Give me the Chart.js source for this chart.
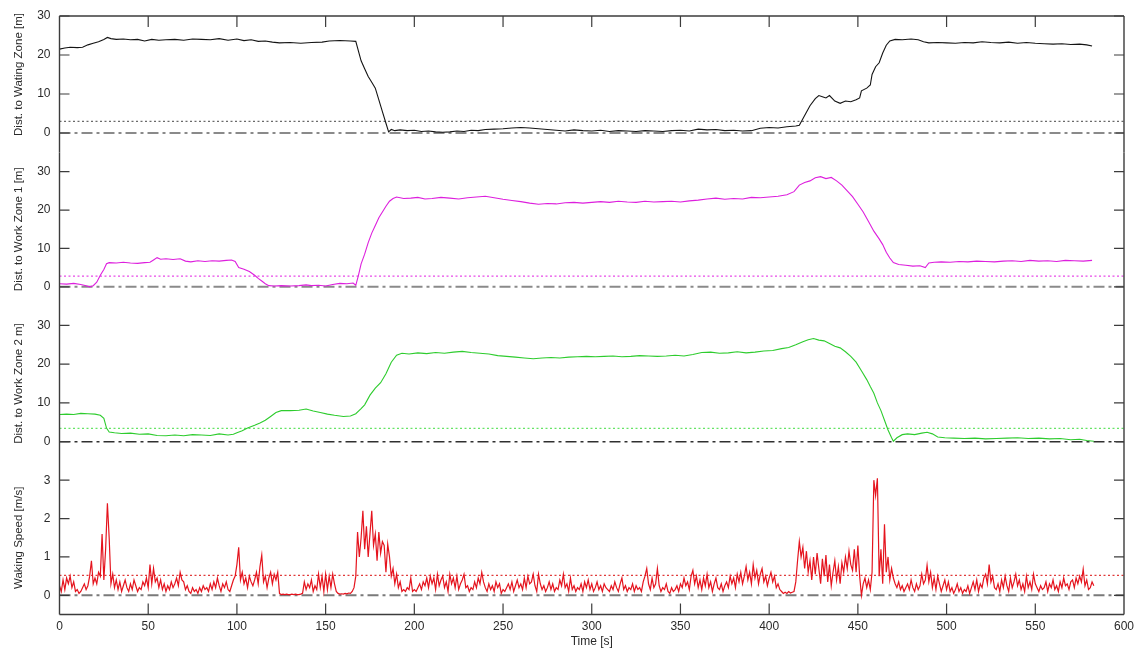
<!DOCTYPE html>
<html>
<head>
<meta charset="utf-8">
<title>Distances and walking speed over time</title>
<script src="https://cdn.jsdelivr.net/npm/chart.js@4.4.1/dist/chart.umd.min.js"></script>
<style>
  html, body { margin: 0; padding: 0; background: #fff; }
  #wrap { position: relative; width: 1136px; height: 650px; overflow: hidden; background: #fff; }
  #wrap canvas { position: absolute; left: 0; }
</style>
</head>
<body>
<div id="wrap">
  <canvas id="pWait" width="1136" height="670" style="top:-20px"></canvas>
  <canvas id="pZone1" width="1136" height="650" style="top:0"></canvas>
  <canvas id="pZone2" width="1136" height="650" style="top:0"></canvas>
  <canvas id="pSpeed" width="1136" height="650" style="top:0"></canvas>
</div>
<script>
// ---- axis ticks ----
const timeTicks = [0, 50, 100, 150, 200, 250, 300, 350, 400, 450, 500, 550, 600];
const distTicks = [0, 10, 20, 30];
const speedTicks = [0, 1, 2, 3];

// ---- alert thresholds ----
const waitThreshold = 3.0;
const zone1Threshold = 2.8;
const zone2Threshold = 3.4;
const speedThreshold = 0.52;

// ---- distance to waiting zone [m] ----
const waitTime = [
  0, 3, 6, 10, 13, 16, 19, 22, 25, 27,
  29, 32, 36, 40, 44, 48, 52, 56, 60, 65,
  70, 75, 80, 85, 90, 95, 100, 104, 108, 112,
  116, 120, 124, 130, 136, 142, 148, 152, 158, 164,
  167, 168.5, 170, 172, 174, 176, 178, 180, 182, 184,
  185.5, 187, 189, 192, 196, 200, 204, 208, 212, 216,
  220, 224, 228, 232, 236, 240, 245, 250, 255, 260,
  265, 270, 275, 280, 285, 290, 295, 300, 305, 310,
  315, 320, 325, 330, 335, 340, 345, 350, 355, 360,
  365, 370, 375, 380, 385, 390, 395, 400, 405, 410,
  415, 417, 420, 423, 426, 428, 430, 432, 434, 437,
  440, 443, 446, 449, 451, 452, 455, 457, 458, 460,
  462, 464, 466, 468, 471, 475, 480, 484, 487, 490,
  495, 500, 505, 510, 515, 520, 525, 530, 535, 540,
  545, 550, 555, 560, 565, 570, 575, 579, 582
];
const waitDist = [
  21.5, 21.8, 22.0, 21.9, 22.0, 22.6, 23.0, 23.4, 24.0, 24.5,
  24.2, 24.0, 24.1, 23.9, 24.0, 23.6, 24.0, 23.8, 23.9, 24.0,
  23.8, 24.1, 24.0, 23.9, 24.2, 23.8, 24.1, 23.7, 23.9, 23.5,
  23.6, 23.3, 23.1, 23.2, 23.0, 23.2, 23.3, 23.6, 23.7, 23.6,
  23.5, 21.0, 18.5, 16.5, 14.5, 13.0, 11.5, 8.5, 5.5, 2.5,
  0.3, 0.9, 0.6, 0.8, 0.6, 0.7, 0.4, 0.5, 0.3, 0.2,
  0.3, 0.5, 0.4, 0.7, 0.6, 0.9, 1.0, 1.1, 1.3, 1.4,
  1.3, 1.1, 0.9, 0.7, 0.5, 0.8, 0.6, 0.5, 0.7, 0.4,
  0.6, 0.5, 0.4, 0.6, 0.5, 0.4, 0.6, 0.7, 0.5, 1.0,
  0.8, 0.9, 0.6, 0.7, 0.5, 0.6, 1.2, 1.4, 1.3, 1.6,
  1.8, 2.0, 4.5, 7.0, 8.8, 9.6, 9.3, 9.0, 9.6, 8.2,
  7.6, 8.2, 8.0, 8.5, 9.0, 10.8, 11.5, 12.3, 15.0, 17.0,
  18.0, 20.5, 22.5, 23.6, 24.0, 23.9, 24.1, 23.9, 23.4, 23.1,
  23.2, 23.1, 23.0, 23.2, 23.1, 23.4, 23.2, 23.1, 23.3, 23.0,
  23.2, 23.0, 22.9, 22.8, 22.9, 22.7, 22.8, 22.6, 22.3
];

// ---- distance to work zone 1 [m] ----
const zone1Time = [
  0, 4, 8, 12, 15, 17, 19, 21, 23, 25,
  26.5, 28, 32, 36, 40, 44, 48, 51, 53, 55,
  57, 60, 64, 68, 71, 74, 78, 82, 86, 90,
  94, 97, 99, 101, 104, 107, 110, 112, 114, 116,
  118, 121, 125, 130, 135, 139, 142, 146, 150, 154,
  158, 162, 165.5, 167, 168.5, 170, 172, 174, 176, 178,
  180, 182, 184, 186, 188, 190, 194, 198, 202, 206,
  210, 215, 220, 225, 230, 235, 240, 245, 250, 255,
  260, 265, 270, 275, 280, 285, 290, 295, 300, 305,
  310, 315, 320, 325, 330, 335, 340, 345, 350, 355,
  360, 365, 370, 375, 380, 385, 390, 395, 400, 405,
  410, 414, 417, 420, 423, 426, 429, 432, 435, 438,
  441, 444, 447, 450, 453, 456, 459, 462, 464, 466,
  468, 470, 473, 477, 481, 485, 488, 490, 493, 497,
  502, 507, 512, 517, 522, 527, 532, 537, 542, 547,
  552, 557, 562, 567, 572, 577, 582
];
const zone1Dist = [
  0.8, 0.7, 0.9, 0.6, 0.3, 0.0, 0.3, 1.2, 3.0, 4.5,
  6.0, 6.3, 6.2, 6.4, 6.2, 6.1, 6.3, 6.4, 7.0, 7.6,
  7.2, 7.3, 7.1, 7.3, 6.7, 6.5, 6.8, 6.6, 6.8, 6.7,
  6.9, 7.0, 6.6, 5.0, 4.6, 4.0, 3.0, 2.2, 1.5, 0.8,
  0.3, 0.2, 0.3, 0.2, 0.3, 0.5, 0.3, 0.4, 0.2, 0.6,
  0.9, 0.8, 1.0, 0.4, 3.0, 6.0, 8.5, 11.5, 14.0, 16.0,
  18.0, 19.5, 21.0, 22.3, 23.0, 23.4, 23.0, 23.1, 23.3, 22.9,
  23.0, 23.3, 23.1, 22.9, 23.2, 23.4, 23.6, 23.2, 22.8, 22.5,
  22.2, 21.8, 21.5, 21.7, 21.6, 21.9, 22.0, 21.8, 22.0, 22.2,
  22.0, 22.3, 22.1, 22.0, 22.3, 22.1, 22.2, 22.3, 22.1, 22.4,
  22.6, 22.9, 23.1, 22.8, 23.0, 22.9, 23.3, 23.2, 23.4, 23.6,
  24.0, 24.8, 26.5, 27.2, 27.6, 28.4, 28.7, 28.2, 28.5, 27.6,
  26.5, 25.0, 23.5, 21.5, 19.5, 17.0, 14.5, 12.5, 11.0, 9.0,
  7.5, 6.3, 5.8, 5.6, 5.4, 5.5, 5.0, 6.2, 6.4, 6.5,
  6.4, 6.6, 6.5, 6.7, 6.6, 6.5, 6.7, 6.8, 6.6, 6.9,
  6.7, 6.8, 6.6, 6.9, 6.8, 6.7, 6.9
];

// ---- distance to work zone 2 [m] ----
const zone2Time = [
  0, 4, 8, 12, 16, 20, 23, 25, 26.5, 28,
  31, 35, 40, 45, 50, 55, 60, 65, 70, 75,
  80, 85, 90, 95, 98, 100, 103, 106, 110, 113,
  116, 119, 122, 125, 130, 135, 139, 143, 147, 151,
  155, 160, 164, 167, 170, 172, 175, 178, 181, 184,
  187, 190, 193, 197, 202, 207, 212, 217, 222, 227,
  232, 237, 242, 247, 252, 257, 262, 267, 272, 277,
  282, 287, 292, 297, 302, 307, 312, 317, 322, 327,
  332, 337, 342, 347, 352, 357, 362, 367, 372, 377,
  382, 387, 392, 397, 402, 407, 411, 415, 419, 422,
  425, 428, 431, 434, 437, 440, 443, 446, 449, 452,
  455, 457, 459, 461, 463, 465, 467, 469, 470, 472,
  475, 478, 482, 486, 489, 492, 495, 499, 504, 510,
  516, 522, 528, 534, 540, 546, 552, 558, 564, 570,
  575, 579, 583
];
const zone2Dist = [
  7.0, 7.1, 7.0, 7.3, 7.2, 7.1, 6.8, 6.0, 3.5, 2.5,
  2.3, 2.1, 2.2, 1.9, 2.0, 1.6, 1.5, 1.7, 1.5, 1.8,
  1.7, 1.6, 2.0, 1.7, 1.9, 2.3, 2.8, 3.5, 4.2, 4.8,
  5.5, 6.5, 7.5, 8.0, 8.0, 8.1, 8.4, 7.9, 7.5, 7.1,
  6.8, 6.5, 6.6, 7.2, 8.5, 9.5, 12.0, 13.8, 15.2, 17.5,
  20.5, 22.3, 22.8, 22.6, 22.9, 22.7, 23.0, 22.8, 23.1, 23.3,
  23.0, 22.8, 22.6, 22.2, 22.0, 21.8, 21.6, 21.4, 21.6, 21.7,
  21.6, 21.8, 21.9, 22.0, 21.9, 22.0, 22.1, 21.9, 22.0, 22.2,
  22.1, 22.0, 22.1, 22.3, 22.1, 22.5, 23.0, 23.1, 22.8, 22.9,
  23.2, 22.9, 23.1, 23.4, 23.5, 24.0, 24.3, 25.0, 25.8, 26.3,
  26.6, 26.2, 26.0, 25.3, 24.6, 24.2, 23.2, 22.0, 20.5, 18.3,
  16.0, 14.2, 12.5, 10.0, 8.0, 5.5, 3.0, 1.0, 0.1, 1.0,
  1.8, 2.0, 1.8, 2.2, 2.4, 2.0, 1.2, 1.0, 0.9, 0.8,
  0.9, 0.7, 0.8, 0.9, 1.0, 0.8, 0.9, 0.7, 0.8, 0.5,
  0.6, 0.3, 0.1
];

// ---- walking speed [m/s], one sample per second from t = 0 s ----
const walkSpeed = [
  0.25, 0.1, 0.4, 0.15, 0.45, 0.3, 0.5, 0.2, 0.35, 0.1,
  0.15, 0.05, 0.1, 0.2, 0.3, 0.15, 0.25, 0.5, 0.9, 0.3,
  0.45, 0.3, 0.6, 0.5, 1.6, 0.4, 1.2, 2.4, 1.5, 0.3,
  0.55, 0.2, 0.4, 0.15, 0.35, 0.1, 0.25, 0.4, 0.2, 0.1,
  0.3, 0.15, 0.4, 0.25, 0.1, 0.2, 0.15, 0.35, 0.25, 0.45,
  0.2, 0.8, 0.3, 0.7, 0.35, 0.45, 0.2, 0.4, 0.15, 0.3,
  0.1, 0.25, 0.15, 0.35, 0.2, 0.3, 0.45, 0.25, 0.6, 0.4,
  0.35, 0.15, 0.25, 0.1, 0.05, 0.2, 0.1, 0.15, 0.05, 0.2,
  0.1, 0.25, 0.15, 0.2, 0.1, 0.3, 0.15, 0.35, 0.2, 0.45,
  0.25, 0.1, 0.3, 0.2, 0.35, 0.15, 0.1, 0.25, 0.4, 0.5,
  0.8, 1.25, 0.4, 0.6, 0.3, 0.45, 0.2, 0.5, 0.35, 0.25,
  0.4, 0.6, 0.3, 0.75, 1.05, 0.35, 0.5, 0.2, 0.45, 0.6,
  0.3, 0.55, 0.4, 0.6, 0.05, 0.02, 0.03, 0.02, 0.03, 0.02,
  0.02, 0.03, 0.02, 0.03, 0.02, 0.02, 0.03, 0.05, 0.35, 0.15,
  0.3, 0.2, 0.4, 0.1, 0.25, 0.15, 0.55, 0.2, 0.5, 0.1,
  0.55, 0.15, 0.5, 0.2, 0.55, 0.3, 0.1, 0.05, 0.03, 0.04,
  0.03, 0.05, 0.04, 0.06, 0.05, 0.1, 0.2, 0.5, 1.65, 1.0,
  1.5, 2.2, 1.2, 1.8, 1.0, 1.6, 2.2, 1.3, 1.6, 0.9,
  1.65, 1.1, 1.4, 1.3, 0.6, 1.33, 1.0, 0.5, 0.7, 0.3,
  0.55, 0.2, 0.35, 0.1, 0.15, 0.1, 0.2, 0.15, 0.45, 0.1,
  0.15, 0.1, 0.2, 0.3, 0.15, 0.35, 0.25, 0.45, 0.2, 0.5,
  0.3, 0.45, 0.15, 0.55, 0.25, 0.4, 0.5, 0.2, 0.35, 0.1,
  0.55, 0.3, 0.45, 0.2, 0.5, 0.15, 0.3, 0.4, 0.55, 0.2,
  0.25, 0.1, 0.2, 0.15, 0.35, 0.2, 0.45, 0.3, 0.6, 0.35,
  0.2, 0.1, 0.3, 0.15, 0.25, 0.1, 0.35, 0.2, 0.3, 0.05,
  0.15, 0.1, 0.2, 0.3, 0.15, 0.35, 0.1, 0.25, 0.4, 0.2,
  0.3, 0.15, 0.45, 0.2, 0.5, 0.3, 0.35, 0.55, 0.25, 0.1,
  0.55, 0.3, 0.15, 0.25, 0.1, 0.2, 0.35, 0.15, 0.3, 0.1,
  0.2, 0.15, 0.4, 0.25, 0.55, 0.2, 0.3, 0.1, 0.45, 0.15,
  0.25, 0.1, 0.2, 0.15, 0.3, 0.1, 0.35, 0.2, 0.4, 0.15,
  0.3, 0.1, 0.2, 0.35, 0.15, 0.25, 0.1, 0.3, 0.2, 0.15,
  0.1, 0.25, 0.15, 0.35, 0.2, 0.1, 0.3, 0.45, 0.15, 0.25,
  0.1, 0.2, 0.15, 0.3, 0.1, 0.25, 0.15, 0.2, 0.1, 0.35,
  0.5, 0.7, 0.3, 0.15, 0.45, 0.2, 0.3, 0.7, 0.25, 0.1,
  0.2, 0.15, 0.3, 0.1, 0.05, 0.2, 0.1, 0.15, 0.25, 0.1,
  0.3, 0.2, 0.45, 0.25, 0.35, 0.15, 0.5, 0.65, 0.3, 0.5,
  0.2, 0.4, 0.15, 0.45, 0.25, 0.55, 0.2, 0.35, 0.1, 0.3,
  0.45, 0.2, 0.15, 0.3, 0.1, 0.25, 0.35, 0.2, 0.5, 0.3,
  0.45, 0.2, 0.55, 0.35, 0.6, 0.3, 0.5, 0.75, 0.4, 0.6,
  0.3, 0.8, 0.45, 0.65, 0.3, 0.55, 0.7, 0.35, 0.5, 0.25,
  0.45, 0.6, 0.35, 0.5, 0.2, 0.3, 0.15, 0.1, 0.05, 0.08,
  0.05, 0.1, 0.06, 0.08, 0.1, 0.35, 0.9, 1.4, 1.0, 1.25,
  0.7, 1.15, 0.6, 0.9, 0.4, 1.0, 0.55, 1.1, 0.7, 0.3,
  0.95, 0.5, 1.05, 0.35, 0.8, 0.25, 0.6, 0.9, 0.4, 0.75,
  0.3, 0.85, 0.6, 1.0, 0.7, 1.15, 0.8, 0.65, 1.2, 0.6,
  1.3, 0.5, 0.0, 0.3, 0.45, 0.2, 0.4, 0.15, 0.6, 3.0,
  2.6, 3.05, 0.5, 1.2, 0.3, 1.85, 0.6, 1.0, 0.4, 0.7,
  0.45, 0.3, 0.2, 0.35, 0.15, 0.25, 0.1, 0.2, 0.3, 0.15,
  0.4, 0.2, 0.1, 0.3, 0.15, 0.25, 0.55, 0.3, 0.4, 0.78,
  0.35, 0.6, 0.2, 0.45, 0.15, 0.5, 0.3, 0.1, 0.25, 0.4,
  0.15, 0.35, 0.1, 0.2, 0.05, 0.15, 0.3, 0.1, 0.2, 0.05,
  0.15, 0.1, 0.25, 0.05, 0.2, 0.35, 0.15, 0.4, 0.1, 0.3,
  0.2, 0.45, 0.55, 0.3, 0.8, 0.35, 0.5, 0.2, 0.15, 0.3,
  0.1, 0.4, 0.2, 0.5, 0.25, 0.1, 0.45, 0.2, 0.35, 0.55,
  0.25, 0.4, 0.15, 0.3, 0.1, 0.5, 0.2, 0.35, 0.15, 0.55,
  0.3, 0.2, 0.1, 0.25, 0.15, 0.2, 0.35, 0.1, 0.3, 0.2,
  0.4, 0.15, 0.25, 0.1, 0.35, 0.2, 0.45, 0.25, 0.3, 0.15,
  0.35, 0.4, 0.2, 0.45, 0.3, 0.5, 0.35, 0.68, 0.25, 0.4,
  0.15, 0.2, 0.35, 0.25
];

// ---- shared layout (page pixels) ----
const PLOT_LEFT = 59.5;
const PLOT_RIGHT = 1124;
const TIME_MIN = 0, TIME_MAX = 600;

Chart.defaults.font.family = "'Liberation Sans', Arial, Helvetica, sans-serif";
Chart.defaults.color = '#2a2a2a';

const zip = (xs, ys) => xs.map((t, i) => ({ x: t, y: ys[i] }));
const hline = v => [{ x: TIME_MIN, y: v }, { x: TIME_MAX, y: v }];

// Box frame with inward tick marks, positioned through the chart scales
const framePlugin = {
  id: 'frame',
  afterDraw(chart, args, o) {
    const { ctx, chartArea: a, scales: { x, y } } = chart;
    const top = o.frameTop !== undefined ? y.getPixelForValue(o.frameTop) : a.top;
    ctx.save();
    ctx.strokeStyle = '#3c3c3c';
    ctx.lineWidth = 1.4;
    ctx.beginPath();
    ctx.moveTo(a.left, top); ctx.lineTo(a.left, a.bottom);
    ctx.moveTo(a.right, top); ctx.lineTo(a.right, a.bottom);
    if (o.drawTop) { ctx.moveTo(a.left, top); ctx.lineTo(a.right, top); }
    if (o.drawBottom) { ctx.moveTo(a.left, a.bottom); ctx.lineTo(a.right, a.bottom); }
    ctx.stroke();
    ctx.lineWidth = 1.2;
    ctx.beginPath();
    o.yTicks.forEach(v => {
      const py = y.getPixelForValue(v);
      ctx.moveTo(a.left, py); ctx.lineTo(a.left + 10, py);
      ctx.moveTo(a.right, py); ctx.lineTo(a.right - 10, py);
    });
    timeTicks.forEach(v => {
      if (v === TIME_MIN || v === TIME_MAX) return;
      const px = x.getPixelForValue(v);
      if (o.drawTop) { ctx.moveTo(px, top); ctx.lineTo(px, top + 11); }
      if (o.drawBottom) { ctx.moveTo(px, a.bottom); ctx.lineTo(px, a.bottom - 11); }
    });
    ctx.stroke();
    ctx.restore();
  }
};

function makePanel(id, cfg) {
  const showX = !!cfg.showX;
  return new Chart(document.getElementById(id), {
    type: 'line',
    data: {
      datasets: [
        { data: cfg.series, borderColor: cfg.color, borderWidth: cfg.width || 1.1, pointRadius: 0, tension: 0, order: 0 },
        { data: hline(cfg.threshold), borderColor: cfg.threshColor, borderWidth: 1.2, borderDash: [2, 2.5], pointRadius: 0, order: 1 },
        { data: hline(0), borderColor: cfg.zeroColor, borderWidth: cfg.zeroWidth, borderDash: [11, 4, 3, 4], pointRadius: 0, order: 2 }
      ]
    },
    options: {
      responsive: false,
      animation: false,
      devicePixelRatio: 1,
      events: [],
      layout: { padding: { left: 0, right: 1136 - PLOT_RIGHT, top: cfg.padTop, bottom: cfg.padBottom } },
      plugins: {
        legend: { display: false },
        tooltip: { enabled: false },
        frame: { yTicks: cfg.ticks, frameTop: cfg.frameTop, drawTop: cfg.drawTop, drawBottom: showX }
      },
      scales: {
        x: {
          type: 'linear',
          min: TIME_MIN, max: TIME_MAX,
          display: showX,
          afterBuildTicks: s => { s.ticks = timeTicks.map(v => ({ value: v })); },
          afterFit: s => {
            if (showX) s.height = 650 - cfg.plotBottom;
            s.paddingLeft = 0; s.paddingRight = 0;
          },
          grid: { display: false, drawTicks: false },
          border: { display: false },
          ticks: { padding: 5, font: { size: 12 }, color: '#2a2a2a', maxRotation: 0, autoSkip: false },
          title: { display: showX, text: 'Time [s]', font: { size: 12 }, color: '#2a2a2a', padding: { top: 0, bottom: 1 } }
        },
        y: {
          type: 'linear',
          position: 'left',
          min: cfg.yMin, max: cfg.yMax,
          afterBuildTicks: s => { s.ticks = cfg.ticks.map(v => ({ value: v })); },
          afterFit: s => { s.width = PLOT_LEFT; s.paddingTop = 0; s.paddingBottom = 0; },
          grid: { display: false, drawTicks: false },
          border: { display: false },
          ticks: { padding: 9, font: { size: 12 }, color: '#2a2a2a' },
          title: { display: true, text: cfg.title, font: { size: 11.5 }, color: '#2a2a2a', padding: { top: 12, bottom: 0 } }
        }
      }
    },
    plugins: [framePlugin]
  });
}

// Panel 1: canvas shifted up 20px so the axis runs past the top border
makePanel('pWait', {
  series: zip(waitTime, waitDist), color: '#141414',
  threshold: waitThreshold, threshColor: '#6a6a6a',
  zeroColor: '#8a8a8a', zeroWidth: 2,
  yMin: -5, yMax: 35, ticks: distTicks, frameTop: 30, drawTop: true,
  title: 'Dist. to Wating Zone [m]',
  padTop: 16.5, padBottom: 670 - 172.5
});

makePanel('pZone1', {
  series: zip(zone1Time, zone1Dist), color: '#dd1fdd',
  threshold: zone1Threshold, threshColor: '#e84ae8',
  zeroColor: '#8a8a8a', zeroWidth: 2,
  yMin: -5, yMax: 35, ticks: distTicks,
  title: 'Dist. to Work Zone 1 [m]',
  padTop: 152.5, padBottom: 650 - 306
});

makePanel('pZone2', {
  series: zip(zone2Time, zone2Dist), color: '#2ecc2e',
  threshold: zone2Threshold, threshColor: '#66e466',
  zeroColor: '#303030', zeroWidth: 1.5,
  yMin: -5, yMax: 35, ticks: distTicks,
  title: 'Dist. to Work Zone 2 m]',
  padTop: 306, padBottom: 650 - 461
});

makePanel('pSpeed', {
  series: walkSpeed.map((v, i) => ({ x: i, y: v })), color: '#e5141e', width: 1.2,
  threshold: speedThreshold, threshColor: '#e03a3a',
  zeroColor: '#7a7a7a', zeroWidth: 2,
  yMin: -0.5, yMax: 3.5, ticks: speedTicks,
  title: 'Waking Speed [m/s]',
  showX: true, plotBottom: 614.5,
  padTop: 461, padBottom: 0
});
</script>
</body>
</html>
